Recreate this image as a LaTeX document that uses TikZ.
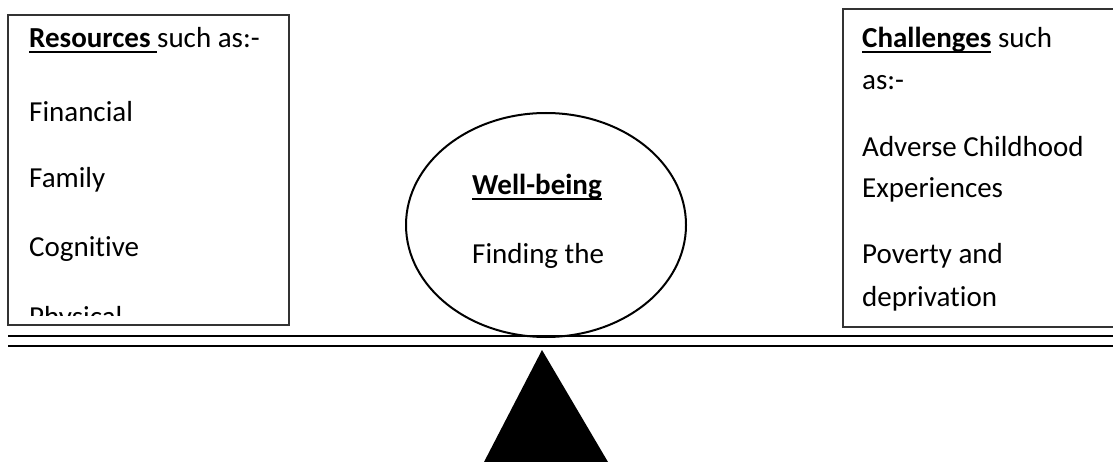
\documentclass[tikz,border=0pt]{standalone}
\usepackage{fontspec}
\setmainfont{Carlito}[Ligatures=NoCommon]
\tikzset{
  box/.style={draw=black!80, line width=1.2pt},
  txt/.style={anchor=base west, inner sep=0pt, font=\fontsize{29}{34}\selectfont},
}
\newcommand{\ul}[1]{{\setbox0\hbox{#1}\rlap{\rule[-5pt]{\wd0}{2.2pt}}\box0}}
\begin{document}
\begin{tikzpicture}[x=1pt, y=-1pt]
\useasboundingbox (0,0) rectangle (1113,462);

% beam and pivot
\draw[line width=1.5pt] (8,336) -- (1113,336);
\draw[line width=1.5pt] (8,346) -- (1113,346);
\fill[black] (542,350) -- (608,462) -- (484,462) -- cycle;

% left box
\draw[box] (8,15) rectangle (289,325);
\begin{scope}
\clip (8,15) rectangle (289,315);
\node[txt] (res) at (29,48) {\ul{\textbf{Resources}\ }such as:-};
\node[txt] (fin) at (29,122) {Financial};
\node[txt] (fam) at (29,188) {Family};
\node[txt] (cog) at (29,257) {Cognitive};
\node[txt] (phy) at (29,326) {Physical};
\end{scope}

% right box
\draw[box] (843,9) rectangle (1120,327);
\node[txt] (cha) at (862,48) {\ul{\textbf{Challenges}} such};
\node[txt] (cha2) at (862,90) {as:-};
\node[txt] (adv) at (862,157) {Adverse Childhood};
\node[txt] (exp) at (862,198) {Experiences};
\node[txt] (pov) at (862,264) {Poverty and};
\node[txt] (dep) at (862,306) {deprivation};

% well-being
\draw[line width=2pt] (546,225) ellipse (140 and 112);
\node[txt] (wb) at (472,195) {\ul{\textbf{Well-being}}};
\node[txt] (find) at (472,263) {Finding the};

\end{tikzpicture}
\end{document}
